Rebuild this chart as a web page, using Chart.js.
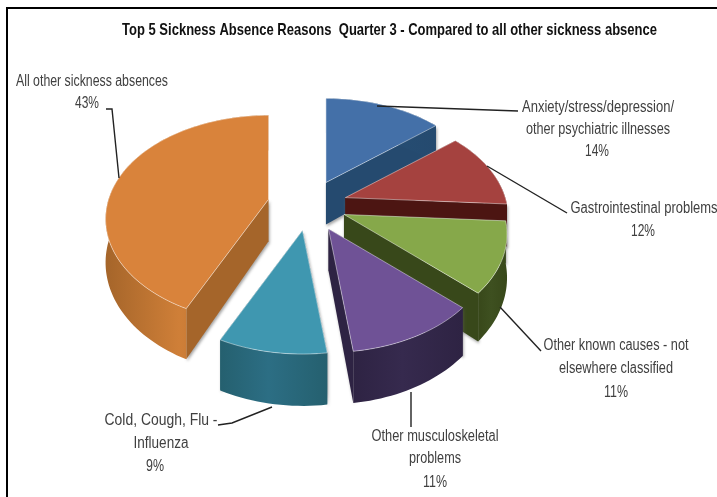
<!DOCTYPE html>
<html><head><meta charset="utf-8">
<style>html,body{margin:0;padding:0;background:#fff}#w{position:relative;width:717px;height:497px}</style>
<script src="https://cdn.jsdelivr.net/npm/chart.js@4"></script>
</head><body><div id="w"><canvas id="c" width="717" height="497"></canvas></div>
<script>
const categories = ["Anxiety/stress/depression/ other psychiatric illnesses","Gastrointestinal problems","Other known causes - not elsewhere classified","Other musculoskeletal problems","Cold, Cough, Flu - Influenza","All other sickness absences"];
const values = [14,12,11,11,9,43];
const topColors = ["#4470A8","#A5423F","#86A84A","#6F5296","#3F97B0","#D9833B"];
const sideDark = ["#254A6F","#4C1512","#38481A","#2E2343","#25606F","#A5652A"];
const sideLight = ["#264E74","#4C1512","#3E5020","#362A4E","#2C6E84","#CF7F38"];
const explode = [49,47,47,53,51,51];
const labelLines = [["Anxiety/stress/depression/","other psychiatric illnesses"],["Gastrointestinal problems"],["Other known causes - not","elsewhere classified"],["Other musculoskeletal","problems"],["Cold, Cough, Flu -","Influenza"],["All other sickness absences"]];
const labelWidths = [[152,144],[147],[145,114],[127,52],[113,55],[152]];
const titleText = "Top 5 Sickness Absence Reasons  Quarter 3 - Compared to all other sickness absence";

const FONT = '"Liberation Sans",sans-serif';
const labelPos = [[598,108,22],[644,209,23],[616,346,23],[435,437,22],[161,421,23],[92,82,22]];
const pctPos = [[597,152],[643,232],[616,393],[435,483],[155,467],[87,104]];
const leaders = [[[377,106],[518,111]],[[487,166],[567,213]],[[500,307],[541,351]],[[411,392],[411,427]],[[272,407],[232,423],[218,425]],[[106,109],[112,109],[119,178]]];
const drawOrder = [0,5,1,2,4,3];

const scene = {cx:309,cy:205,sx:160,sy:100,p:0.19,depth:42};
function apexOf(a,off){
  const mid=(a.startAngle+a.endAngle)/2, R=a.outerRadius;
  return [scene.cx+scene.sx*Math.cos(mid)*off/R, scene.cy+scene.sy*Math.sin(mid)*off/R];
}
function project(ap,nx,ny,z){
  const w=1-scene.p*ny;
  return [ap[0]+scene.sx*nx/w, ap[1]+scene.sy*ny/w+(z?scene.depth/w:0)];
}
function rimOf(a){
  const pts=[], n=Math.max(4,Math.ceil((a.endAngle-a.startAngle)/0.03));
  for(let i=0;i<=n;i++){
    const t=a.startAngle+(a.endAngle-a.startAngle)*i/n;
    pts.push([Math.cos(t),Math.sin(t)]);
  }
  return pts;
}
function poly(ctx,pts){ctx.beginPath();pts.forEach((p,i)=>i?ctx.lineTo(p[0],p[1]):ctx.moveTo(p[0],p[1]));ctx.closePath();}

const pie3d = {
  id:'pie3d',
  beforeDatasetsDraw(chart){
    const ctx=chart.ctx, arcs=chart.getDatasetMeta(0).data;
    ctx.save();
    for(const i of drawOrder){
      const a=arcs[i], rim=rimOf(a), o=apexOf(a,explode[i]);
      const top=rim.map(p=>project(o,p[0],p[1],0)), bot=rim.map(p=>project(o,p[0],p[1],1));
      const ap=project(o,0,0,0), ab=project(o,0,0,1);
      ctx.save();
      ctx.shadowColor='rgba(90,90,90,.55)';ctx.shadowBlur=3;ctx.shadowOffsetX=1;ctx.shadowOffsetY=2;
      ctx.fillStyle=sideDark[i];
      poly(ctx,[ap,top[0],bot[0],ab]);ctx.fill();
      poly(ctx,[ap,top[top.length-1],bot[bot.length-1],ab]);ctx.fill();
      ctx.restore();
      let xs=top.map(p=>p[0]);
      const x0=Math.min(...xs),x1=Math.max(...xs);
      const gr=ctx.createLinearGradient(x0,0,x1,0);
      gr.addColorStop(0,sideDark[i]);gr.addColorStop(.45,sideLight[i]);gr.addColorStop(1,sideDark[i]);
      ctx.fillStyle=gr;
      poly(ctx,top.concat(bot.slice().reverse()));ctx.fill();
      ctx.fillStyle=topColors[i];
      poly(ctx,[ap].concat(top));ctx.fill();
      ctx.strokeStyle='rgba(255,255,255,.45)';ctx.lineWidth=1;ctx.stroke();
    }
    ctx.restore();
    return false;
  },
  afterDraw(chart){
    const ctx=chart.ctx, total=values.reduce((s,v)=>s+v,0);
    ctx.save();
    ctx.strokeStyle='#000';ctx.lineWidth=2;
    ctx.beginPath();ctx.moveTo(7,497);ctx.lineTo(7,8);ctx.lineTo(717,8);ctx.stroke();
    ctx.strokeStyle='#222';ctx.lineWidth=1.4;
    leaders.forEach(l=>{ctx.beginPath();l.forEach((p,i)=>i?ctx.lineTo(p[0],p[1]):ctx.moveTo(p[0],p[1]));ctx.stroke();});
    ctx.fillStyle='#404040';ctx.font='16px '+FONT;ctx.textAlign='center';ctx.textBaseline='middle';
    labelLines.forEach((ls,i)=>{
      ls.forEach((s,j)=>ctx.fillText(s,labelPos[i][0],labelPos[i][1]+j*labelPos[i][2],labelWidths[i][j]));
      ctx.fillText(Math.round(values[i]/total*100)+'%',pctPos[i][0],pctPos[i][1],values[i]<10?18:24);
    });
    ctx.restore();
  }
};

new Chart(document.getElementById('c'),{
  type:'pie',
  data:{labels:categories,datasets:[{data:values,backgroundColor:topColors,borderWidth:0,offset:explode}]},
  options:{
    responsive:false,animation:false,
    layout:{padding:{left:122,right:60,top:20}},
    plugins:{
      legend:{display:false},tooltip:{enabled:false},
      title:{display:true,text:titleText,color:'#111',font:{family:FONT,size:17,weight:'bold'},padding:{top:0,bottom:10}}
    }
  },
  plugins:[pie3d]
});
</script></body></html>
